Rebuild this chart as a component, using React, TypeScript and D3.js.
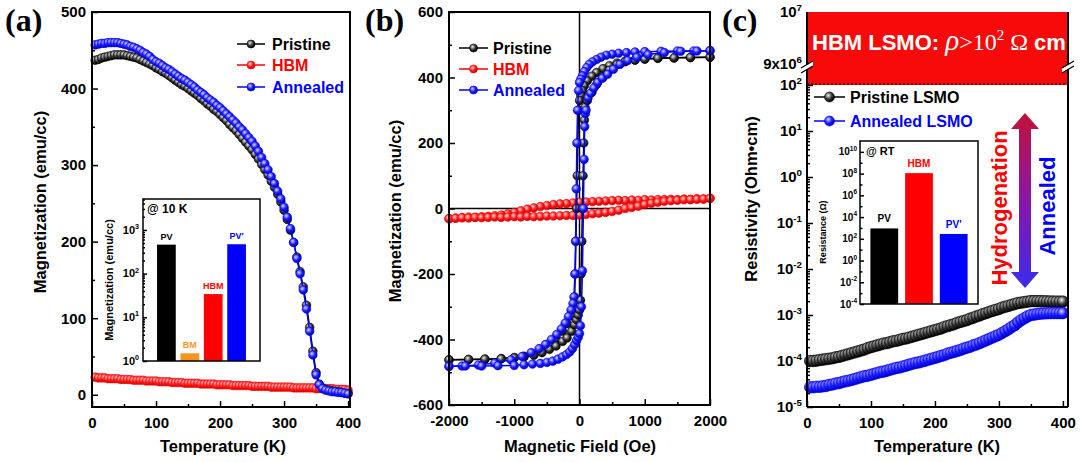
import React, { useEffect, useRef } from 'react';
import * as d3 from 'd3';

const FONT = 'Arial, "Liberation Sans", Helvetica, sans-serif';
const SERIF = '"Times New Roman", "Liberation Serif", serif';

// ---------- (a) magnetization vs temperature ----------
const tempK = [
  5, 10, 15, 20, 25, 30, 35, 40, 45, 50,
  55, 60, 65, 70, 75, 80, 85, 90, 95, 100,
  105, 110, 115, 120, 125, 130, 135, 140, 145, 150,
  155, 160, 165, 170, 175, 180, 185, 190, 195, 200,
  205, 210, 215, 220, 225, 230, 235, 240, 245, 250,
  255, 260, 265, 270, 275, 280, 285, 290, 295, 300,
  305, 310, 315, 320, 325, 330, 335, 340, 345, 350,
  355, 360, 365, 370, 375, 380, 385, 390, 395, 400,
];
const magPristine = [
  437, 438, 440, 441, 442, 443, 444, 444, 444, 444,
  443, 442, 441, 440, 438, 436, 434, 432, 430, 427,
  425, 422, 420, 417, 414, 411, 408, 405, 403, 400,
  397, 394, 391, 387, 384, 380, 377, 373, 370, 366,
  362, 358, 353, 349, 345, 340, 335, 330, 325, 320,
  314, 308, 301, 294, 287, 279, 271, 262, 252, 241,
  229, 215, 199, 180, 161, 141, 117, 88, 57, 29,
  14, 9, 7, 6, 5, 4, 4, 3, 2, 2,
];
const magHBM = [
  23, 22, 22, 22, 21, 21, 21, 21, 20, 20,
  20, 20, 19, 19, 19, 19, 18, 18, 18, 18,
  17, 17, 17, 17, 16, 16, 16, 16, 15, 15,
  15, 15, 15, 14, 14, 14, 14, 14, 13, 13,
  13, 13, 13, 12, 12, 12, 12, 12, 12, 11,
  11, 11, 11, 11, 11, 10, 10, 10, 10, 10,
  10, 10, 9, 9, 9, 9, 9, 9, 9, 8,
  8, 8, 8, 8, 8, 7, 7, 7, 7, 6,
];
const magAnnealed = [
  457, 458, 459, 459, 460, 460, 460, 460, 459, 458,
  457, 455, 454, 452, 450, 447, 445, 442, 438, 435,
  433, 430, 427, 425, 422, 419, 416, 413, 411, 408,
  405, 402, 398, 395, 392, 388, 385, 382, 378, 375,
  371, 367, 363, 359, 355, 350, 346, 341, 336, 331,
  325, 318, 310, 302, 294, 285, 276, 266, 256, 245,
  232, 217, 199, 178, 158, 137, 112, 83, 52, 26,
  13, 8, 6, 5, 4, 4, 3, 3, 2, 1,
];
const insetALabels = ['PV', 'BM', 'HBM', "PV'"];
const insetAValues = [460, 1.5, 34, 470];
const insetAColors = ['#000000', '#f7931e', '#ff0000', '#0000ff'];

// ---------- (b) hysteresis loops ----------
const hPristineDown = [2000, 1700, 1450, 1200, 1000, 850, 700, 575, 460, 360, 260, 190, 120, 75, 45, 20, 0, -15, -25, -35, -45, -55, -65, -75, -85, -120, -190, -260, -360, -460, -575, -700, -850, -1000, -1200, -1450, -1700, -2000];
const mPristineDown = [462, 461, 460, 459, 457, 454, 450, 444, 436, 427, 415, 404, 390, 375, 360, 345, 330, 300, 200, 100, 0, -100, -200, -270, -305, -328, -352, -375, -398, -420, -437, -446, -451, -455, -458, -460, -461, -462];
const hPristineUp = [-2000, -1700, -1450, -1200, -1000, -850, -700, -575, -460, -360, -260, -190, -120, -75, -45, -20, 0, 15, 25, 35, 45, 55, 65, 75, 85, 120, 190, 260, 360, 460, 575, 700, 850, 1000, 1200, 1450, 1700, 2000];
const mPristineUp = [-462, -461, -460, -459, -456, -453, -448, -440, -430, -420, -406, -395, -375, -355, -340, -325, -310, -280, -200, -100, 0, 100, 200, 270, 309, 330, 355, 378, 400, 422, 440, 448, 453, 456, 459, 460, 461, 462];

const hHBMDown = [2000, 1900, 1800, 1700, 1600, 1500, 1400, 1300, 1200, 1100, 1000, 900, 800, 700, 600, 500, 400, 300, 200, 100, 0, -100, -200, -300, -400, -500, -600, -700, -800, -900, -1000, -1100, -1200, -1300, -1400, -1500, -1600, -1700, -1800, -1900, -2000];
const mHBMDown = [31, 29, 30, 28, 29, 27, 28, 27, 27, 26, 27, 25, 26, 24, 25, 24, 23, 22, 21, 20, 19, 17, 15, 14, 12, 9, 6, 2, -2, -7, -12, -16, -20, -22, -24, -25, -27, -26, -28, -29, -31];
const hHBMUp = [-2000, -1900, -1800, -1700, -1600, -1500, -1400, -1300, -1200, -1100, -1000, -900, -800, -700, -600, -500, -400, -300, -200, -100, 0, 100, 200, 300, 400, 500, 600, 700, 800, 900, 1000, 1100, 1200, 1300, 1400, 1500, 1600, 1700, 1800, 1900, 2000];
const mHBMUp = [-31, -30, -28, -29, -27, -28, -27, -26, -27, -26, -25, -26, -24, -25, -24, -23, -23, -22, -21, -21, -20, -18, -16, -14, -12, -9, -5, 0, 3, 7, 12, 16, 19, 22, 24, 25, 27, 27, 28, 29, 31];

const hAnnealedDown = [2000, 1750, 1500, 1250, 1000, 850, 720, 600, 500, 410, 330, 260, 200, 150, 110, 75, 45, 20, 0, -15, -30, -40, -50, -60, -70, -85, -100, -130, -170, -220, -280, -350, -430, -520, -620, -740, -880, -1050, -1300, -1550, -1800, -2000];
const mAnnealedDown = [482, 481, 481, 480, 479, 478, 476, 474, 471, 468, 462, 455, 448, 440, 430, 418, 405, 395, 385, 360, 300, 200, 60, -100, -200, -270, -290, -310, -330, -350, -368, -385, -400, -415, -428, -440, -452, -462, -472, -478, -481, -482];
const hAnnealedUp = [-2000, -1750, -1500, -1250, -1000, -850, -720, -600, -500, -410, -330, -260, -200, -150, -110, -75, -45, -20, 0, 15, 30, 45, 60, 70, 80, 90, 100, 130, 170, 220, 280, 350, 430, 520, 620, 740, 880, 1050, 1300, 1550, 1800, 2000];
const mAnnealedUp = [-482, -481, -481, -480, -479, -477, -475, -473, -470, -466, -460, -453, -446, -438, -428, -416, -403, -393, -382, -358, -300, -190, 0, 150, 250, 290, 300, 338, 352, 368, 385, 398, 410, 425, 440, 452, 462, 470, 476, 480, 481, 482];

// ---------- (c) resistivity vs temperature ----------
const rhoPristine = [
  1.00e-4, 1.00e-4, 1.02e-4, 1.05e-4, 1.07e-4, 1.10e-4, 1.12e-4, 1.15e-4, 1.20e-4, 1.23e-4,
  1.29e-4, 1.35e-4, 1.41e-4, 1.48e-4, 1.55e-4, 1.62e-4, 1.70e-4, 1.78e-4, 1.91e-4, 2.00e-4,
  2.09e-4, 2.19e-4, 2.29e-4, 2.40e-4, 2.45e-4, 2.57e-4, 2.69e-4, 2.75e-4, 2.88e-4, 3.02e-4,
  3.09e-4, 3.24e-4, 3.39e-4, 3.55e-4, 3.72e-4, 3.89e-4, 4.07e-4, 4.27e-4, 4.47e-4, 4.68e-4,
  4.90e-4, 5.13e-4, 5.50e-4, 5.75e-4, 6.03e-4, 6.31e-4, 6.76e-4, 7.08e-4, 7.41e-4, 7.76e-4,
  8.32e-4, 8.71e-4, 9.33e-4, 9.77e-4, 1.05e-3, 1.10e-3, 1.17e-3, 1.23e-3, 1.29e-3, 1.35e-3,
  1.45e-3, 1.51e-3, 1.58e-3, 1.66e-3, 1.74e-3, 1.82e-3, 1.86e-3, 1.91e-3, 1.95e-3, 2.00e-3,
  2.00e-3, 2.00e-3, 2.00e-3, 1.99e-3, 1.98e-3, 1.97e-3, 1.96e-3, 1.95e-3, 1.95e-3, 1.95e-3,
];
const rhoAnnealed = [
  2.69e-5, 2.69e-5, 2.75e-5, 2.75e-5, 2.82e-5, 2.88e-5, 3.02e-5, 3.09e-5, 3.24e-5, 3.31e-5,
  3.47e-5, 3.63e-5, 3.72e-5, 3.89e-5, 4.07e-5, 4.27e-5, 4.47e-5, 4.68e-5, 4.79e-5, 5.01e-5,
  5.25e-5, 5.50e-5, 5.75e-5, 5.89e-5, 6.17e-5, 6.46e-5, 6.76e-5, 7.08e-5, 7.24e-5, 7.59e-5,
  7.94e-5, 8.32e-5, 8.71e-5, 9.12e-5, 9.33e-5, 9.77e-5, 1.02e-4, 1.07e-4, 1.12e-4, 1.17e-4,
  1.23e-4, 1.29e-4, 1.35e-4, 1.45e-4, 1.51e-4, 1.58e-4, 1.66e-4, 1.74e-4, 1.86e-4, 1.95e-4,
  2.04e-4, 2.19e-4, 2.29e-4, 2.45e-4, 2.63e-4, 2.82e-4, 3.02e-4, 3.24e-4, 3.47e-4, 3.72e-4,
  4.07e-4, 4.47e-4, 4.90e-4, 5.50e-4, 6.03e-4, 6.92e-4, 7.76e-4, 8.51e-4, 9.33e-4, 1.00e-3,
  1.02e-3, 1.05e-3, 1.07e-3, 1.08e-3, 1.09e-3, 1.10e-3, 1.10e-3, 1.10e-3, 1.10e-3, 1.10e-3,
];
const insetCLabels = ['PV', 'HBM', "PV'"];
const insetCValues = [9e2, 1.1e8, 2.8e2];
const insetCColors = ['#000000', '#ff0000', '#0000ff'];

const BLACK = '#000000';
const RED = '#ff0000';
const BLUE = '#0000ff';

export default function App() {
  const svgRef = useRef<SVGSVGElement>(null);

  useEffect(() => {
    if (!svgRef.current) return;
    const svg = d3.select(svgRef.current);
    svg.selectAll('*').remove();

    // shiny sphere markers
    const defs = svg.append('defs');
    const sphere = (id: string, light: string, base: string, dark: string) => {
      const g = defs.append('radialGradient').attr('id', id)
        .attr('cx', '38%').attr('cy', '35%').attr('r', '65%');
      g.append('stop').attr('offset', '0%').attr('stop-color', light);
      g.append('stop').attr('offset', '55%').attr('stop-color', base);
      g.append('stop').attr('offset', '100%').attr('stop-color', dark);
    };
    sphere('sp-k', '#eeeeee', '#3a3a3a', '#000000');
    sphere('sp-r', '#ffd6d6', '#ff2020', '#c80000');
    sphere('sp-b', '#d6d6ff', '#2020ff', '#0000b8');

    const arrowGrad = defs.append('linearGradient').attr('id', 'arrow-grad')
      .attr('x1', 0).attr('y1', 0).attr('x2', 0).attr('y2', 1);
    arrowGrad.append('stop').attr('offset', '0%').attr('stop-color', '#c0123a');
    arrowGrad.append('stop').attr('offset', '50%').attr('stop-color', '#8a16a8');
    arrowGrad.append('stop').attr('offset', '100%').attr('stop-color', '#3a2cec');

    const styleAxis = (sel: any, size = 15) => {
      sel.select('.domain').remove();
      sel.selectAll('line').attr('stroke', '#000').attr('stroke-width', 1.5);
      sel.selectAll('text')
        .attr('font-family', FONT).attr('font-weight', 'bold')
        .attr('font-size', size).attr('fill', '#000');
    };

    const linearAxes = (g: any, x: any, y: any, x0: number, y1: number,
      xMaj: number[], xMin: number[], yMaj: number[], yMin: number[]) => {
      g.append('g').attr('transform', `translate(0,${y1})`)
        .call(d3.axisBottom(x).tickValues(xMin).tickSize(-3).tickFormat(() => ''))
        .call(styleAxis);
      g.append('g').attr('transform', `translate(0,${y1})`)
        .call(d3.axisBottom(x).tickValues(xMaj).tickSize(-6).tickPadding(10).tickFormat((d: any) => String(d)))
        .call(styleAxis);
      g.append('g').attr('transform', `translate(${x0},0)`)
        .call(d3.axisLeft(y).tickValues(yMin).tickSize(-3).tickFormat(() => ''))
        .call(styleAxis);
      g.append('g').attr('transform', `translate(${x0},0)`)
        .call(d3.axisLeft(y).tickValues(yMaj).tickSize(-6).tickPadding(6).tickFormat((d: any) => String(d)))
        .call(styleAxis);
    };

    const frame = (g: any, x0: number, y0: number, x1: number, y1: number, w = 2) => {
      g.append('rect').attr('x', x0).attr('y', y0).attr('width', x1 - x0).attr('height', y1 - y0)
        .attr('fill', 'none').attr('stroke', '#000').attr('stroke-width', w);
    };

    const series = (g: any, xs: number[], ys: number[], x: any, y: any,
      color: string, grad: string, r: number) => {
      const pts: [number, number][] = xs.map((v, i) => [x(v), y(ys[i])]);
      g.append('path').attr('d', d3.line()(pts))
        .attr('fill', 'none').attr('stroke', color).attr('stroke-width', 1.5);
      g.append('g').selectAll('circle').data(pts).join('circle')
        .attr('cx', (d: any) => d[0]).attr('cy', (d: any) => d[1]).attr('r', r)
        .attr('fill', `url(#${grad})`).attr('stroke', color).attr('stroke-width', 0.6);
    };

    const text = (g: any, x: number, y: number, s: string, size: number,
      opts: { fill?: string; anchor?: string; rotate?: boolean; weight?: string; family?: string } = {}) => {
      const t = g.append('text')
        .attr('font-family', opts.family || FONT).attr('font-weight', opts.weight || 'bold')
        .attr('font-size', size).attr('fill', opts.fill || '#000')
        .attr('text-anchor', opts.anchor || 'start').text(s);
      if (opts.rotate) t.attr('transform', `translate(${x},${y}) rotate(-90)`);
      else t.attr('x', x).attr('y', y);
      return t;
    };

    const powLabel = (g: any, x: number, y: number, base: string, exp: string, size: number, anchor = 'end') => {
      const t = g.append('text').attr('x', x).attr('y', y + size * 0.35)
        .attr('text-anchor', anchor).attr('font-family', FONT).attr('font-weight', 'bold')
        .attr('font-size', size).attr('fill', '#000');
      t.append('tspan').text(base);
      t.append('tspan').attr('dy', -size * 0.45).attr('font-size', size * 0.65).text(exp);
    };

    const legend = (g: any, x0: number, x1: number, tx: number, rows: [number, string, string, string][], size: number, r: number) => {
      rows.forEach(([y, label, color, grad]) => {
        g.append('line').attr('x1', x0).attr('x2', x1).attr('y1', y).attr('y2', y)
          .attr('stroke', color).attr('stroke-width', 1.5);
        g.append('circle').attr('cx', (x0 + x1) / 2).attr('cy', y).attr('r', r)
          .attr('fill', `url(#${grad})`).attr('stroke', color).attr('stroke-width', 0.6);
        text(g, tx, y + size * 0.36, label, size, { fill: color });
      });
    };

    // ================= panel (a) =================
    const gA = svg.append('g');
    const xA = d3.scaleLinear().domain([0, 403]).range([92, 350]);
    const yA = d3.scaleLinear().domain([-16, 500]).range([407, 12]);
    linearAxes(gA, xA, yA, 92, 407, [0, 100, 200, 300, 400], [50, 150, 250, 350],
      [0, 100, 200, 300, 400, 500], [50, 150, 250, 350, 450]);
    series(gA, tempK, magHBM, xA, yA, RED, 'sp-r', 4.3);
    series(gA, tempK, magPristine, xA, yA, BLACK, 'sp-k', 4.3);
    series(gA, tempK, magAnnealed, xA, yA, BLUE, 'sp-b', 4.3);
    frame(gA, 92, 12, 350, 407);
    legend(gA, 237, 265, 272, [[44, 'Pristine', BLACK, 'sp-k'], [65, 'HBM', RED, 'sp-r'], [87, 'Annealed', BLUE, 'sp-b']], 16, 4);
    text(gA, 223, 452, 'Temperature (K)', 16.5, { anchor: 'middle' });
    text(gA, 46, 202, 'Magnetization (emu/cc)', 16.5, { anchor: 'middle', rotate: true });
    text(gA, 5, 31, '(a)', 32, { family: SERIF });

    // inset (a)
    const iA = svg.append('g');
    iA.append('rect').attr('x', 143).attr('y', 199).attr('width', 117).attr('height', 162).attr('fill', '#fff');
    const bxA = d3.scaleBand().domain(insetALabels).range([143, 260]).paddingInner(0.2).paddingOuter(0.6);
    const byA = d3.scaleLog().domain([1, 5100]).range([361, 199]);
    iA.selectAll('rect.bar').data(insetALabels).join('rect').attr('class', 'bar')
      .attr('x', (d: string) => bxA(d) as number).attr('width', bxA.bandwidth())
      .attr('y', (d: string, i: number) => byA(insetAValues[i])).attr('height', (d: string, i: number) => 361 - byA(insetAValues[i]))
      .attr('fill', (d: string, i: number) => insetAColors[i]);
    insetALabels.forEach((d, i) => {
      text(iA, (bxA(d) as number) + bxA.bandwidth() / 2, byA(insetAValues[i]) - 5, d, 9, { fill: insetAColors[i], anchor: 'middle' });
    });
    const minorA: number[] = [];
    [1, 10, 100, 1000].forEach(b => [2, 3, 4, 5, 6, 7, 8, 9].forEach(m => { if (b * m < 5100) minorA.push(b * m); }));
    iA.append('g').attr('transform', 'translate(143,0)')
      .call(d3.axisLeft(byA).tickValues(minorA).tickSize(-2).tickFormat(() => '')).call(styleAxis);
    iA.append('g').attr('transform', 'translate(143,0)')
      .call(d3.axisLeft(byA).tickValues([1, 10, 100, 1000]).tickSize(-4).tickFormat(() => '')).call(styleAxis);
    [0, 1, 2, 3].forEach(e => powLabel(iA, 139, byA(Math.pow(10, e)), '10', String(e), 11));
    frame(iA, 143, 199, 260, 361, 1.5);
    text(iA, 147, 213, '@ 10 K', 12, {});
    text(iA, 113, 280, 'Magnetization (emu/cc)', 11, { anchor: 'middle', rotate: true });

    // ================= panel (b) =================
    const gB = svg.append('g');
    const xB = d3.scaleLinear().domain([-2000, 2000]).range([449, 710]);
    const yB = d3.scaleLinear().domain([-600, 600]).range([405, 12]);
    linearAxes(gB, xB, yB, 449, 405, [-2000, -1000, 0, 1000, 2000], [-1500, -500, 500, 1500],
      [-600, -400, -200, 0, 200, 400, 600], [-500, -300, -100, 100, 300, 500]);
    gB.append('line').attr('x1', xB(0)).attr('x2', xB(0)).attr('y1', 12).attr('y2', 405)
      .attr('stroke', '#000').attr('stroke-width', 1.5);
    gB.append('line').attr('x1', 449).attr('x2', 710).attr('y1', yB(0)).attr('y2', yB(0))
      .attr('stroke', '#000').attr('stroke-width', 1.5);
    series(gB, hHBMDown, mHBMDown, xB, yB, RED, 'sp-r', 4.3);
    series(gB, hHBMUp, mHBMUp, xB, yB, RED, 'sp-r', 4.3);
    series(gB, hPristineDown, mPristineDown, xB, yB, BLACK, 'sp-k', 4.3);
    series(gB, hPristineUp, mPristineUp, xB, yB, BLACK, 'sp-k', 4.3);
    series(gB, hAnnealedDown, mAnnealedDown, xB, yB, BLUE, 'sp-b', 4.3);
    series(gB, hAnnealedUp, mAnnealedUp, xB, yB, BLUE, 'sp-b', 4.3);
    frame(gB, 449, 12, 710, 405);
    legend(gB, 459, 488, 493, [[48, 'Pristine', BLACK, 'sp-k'], [69, 'HBM', RED, 'sp-r'], [90, 'Annealed', BLUE, 'sp-b']], 16, 4);
    text(gB, 580, 452, 'Magnetic Field (Oe)', 16.5, { anchor: 'middle' });
    text(gB, 401, 211, 'Magnetization (emu/cc)', 16.5, { anchor: 'middle', rotate: true });
    text(gB, 365, 31, '(b)', 32, { family: SERIF });

    // ================= panel (c) =================
    const gC = svg.append('g');
    const xC = d3.scaleLinear().domain([0, 408]).range([807, 1068]);
    const yC = d3.scaleLog().domain([1e-5, 1e2]).range([407, 85]);
    const yUp = d3.scaleLinear().domain([9e6, 1e7]).range([64, 12]);

    gC.append('rect').attr('x', 807).attr('y', yUp(1e7)).attr('width', 1068 - 807)
      .attr('height', yC(1e2) - yUp(1e7)).attr('fill', '#f80a0a');
    gC.append('line').attr('x1', 807).attr('x2', 1068).attr('y1', yC(1e2) - 1).attr('y2', yC(1e2) - 1)
      .attr('stroke', '#000').attr('stroke-width', 1).attr('stroke-dasharray', '2,2');

    const minorC: number[] = [];
    [1e-5, 1e-4, 1e-3, 1e-2, 1e-1, 1, 10].forEach(b => [2, 3, 4, 5, 6, 7, 8, 9].forEach(m => minorC.push(b * m)));
    gC.append('g').attr('transform', 'translate(807,0)')
      .call(d3.axisLeft(yC).tickValues(minorC).tickSize(-3).tickFormat(() => '')).call(styleAxis);
    gC.append('g').attr('transform', 'translate(807,0)')
      .call(d3.axisLeft(yC).tickValues([1e-5, 1e-4, 1e-3, 1e-2, 1e-1, 1, 10, 100]).tickSize(-6).tickFormat(() => '')).call(styleAxis);
    gC.append('g').attr('transform', 'translate(0,407)')
      .call(d3.axisBottom(xC).tickValues([50, 150, 250, 350]).tickSize(-3).tickFormat(() => '')).call(styleAxis);
    gC.append('g').attr('transform', 'translate(0,407)')
      .call(d3.axisBottom(xC).tickValues([0, 100, 200, 300, 400]).tickSize(-6).tickPadding(10).tickFormat((d: any) => String(d)))
      .call(styleAxis);
    [-5, -4, -3, -2, -1, 0, 1, 2].forEach(e => powLabel(gC, 802, yC(Math.pow(10, e)), '10', String(e), 15));
    powLabel(gC, 802, yUp(1e7), '10', '7', 15);
    powLabel(gC, 802, yUp(9e6), '9x10', '6', 15);

    series(gC, tempK, rhoPristine, xC, yC, BLACK, 'sp-k', 5.8);
    series(gC, tempK, rhoAnnealed, xC, yC, BLUE, 'sp-b', 5.8);

    gC.append('line').attr('x1', 807).attr('x2', 1068).attr('y1', 407).attr('y2', 407)
      .attr('stroke', '#000').attr('stroke-width', 2);
    [807, 1068].forEach(ax => {
      gC.append('line').attr('x1', ax).attr('x2', ax).attr('y1', 12).attr('y2', 407)
        .attr('stroke', '#000').attr('stroke-width', 2);
      // axis break marks
      gC.append('path').attr('d', `M${ax - 6},68 L${ax + 6},61 L${ax + 6},66 L${ax - 6},73 Z`)
        .attr('fill', '#fff');
      gC.append('path').attr('d', `M${ax - 6},68 L${ax + 6},61 M${ax - 6},73 L${ax + 6},66`)
        .attr('stroke', '#000').attr('stroke-width', 1.3);
    });

    // banner text
    const bt = gC.append('text').attr('x', 812).attr('y', 50).attr('fill', '#fff');
    bt.append('tspan').attr('font-family', FONT).attr('font-weight', 'bold').attr('font-size', 22).text('HBM LSMO: ');
    bt.append('tspan').attr('font-family', SERIF).attr('font-style', 'italic').attr('font-size', 29).text('ρ');
    bt.append('tspan').attr('font-family', SERIF).attr('font-size', 24).text('>10');
    bt.append('tspan').attr('font-family', SERIF).attr('font-size', 15).attr('dy', -10).text('2');
    bt.append('tspan').attr('font-family', SERIF).attr('font-size', 24).attr('dy', 10).text(' Ω ');
    bt.append('tspan').attr('font-family', FONT).attr('font-weight', 'bold').attr('font-size', 22).text('cm');

    legend(gC, 814, 845, 850, [[97, 'Pristine LSMO', BLACK, 'sp-k'], [121, 'Annealed LSMO', BLUE, 'sp-b']], 16, 5);

    // arrow
    const ac = 1025;
    gC.append('path')
      .attr('d', `M${ac},113 L${ac + 14},129 L${ac + 6},129 L${ac + 6},272 L${ac + 14},272 L${ac},288 L${ac - 14},272 L${ac - 6},272 L${ac - 6},129 L${ac - 14},129 Z`)
      .attr('fill', 'url(#arrow-grad)');
    text(gC, 1007, 208, 'Hydrogenation', 22, { anchor: 'middle', rotate: true, fill: RED });
    text(gC, 1055, 206, 'Annealed', 22, { anchor: 'middle', rotate: true, fill: BLUE });

    text(gC, 937, 452, 'Temperature (K)', 16.5, { anchor: 'middle' });
    text(gC, 757, 199, 'Resistivity (Ohm\u2022cm)', 16.5, { anchor: 'middle', rotate: true });
    text(gC, 722, 31, '(c)', 32, { family: SERIF });

    // inset (c)
    const iC = svg.append('g');
    iC.append('rect').attr('x', 860).attr('y', 141).attr('width', 118).attr('height', 163).attr('fill', '#fff');
    const bxC = d3.scaleBand().domain(insetCLabels).range([860, 978]).paddingInner(0.2).paddingOuter(0.3);
    const byC = d3.scaleLog().domain([1e-4, 1e11]).range([304, 141]);
    iC.selectAll('rect.bar').data(insetCLabels).join('rect').attr('class', 'bar')
      .attr('x', (d: string) => bxC(d) as number).attr('width', bxC.bandwidth())
      .attr('y', (d: string, i: number) => byC(insetCValues[i])).attr('height', (d: string, i: number) => 304 - byC(insetCValues[i]))
      .attr('fill', (d: string, i: number) => insetCColors[i]);
    insetCLabels.forEach((d, i) => {
      text(iC, (bxC(d) as number) + bxC.bandwidth() / 2, byC(insetCValues[i]) - 6, d, 10, { fill: insetCColors[i], anchor: 'middle' });
    });
    const decC = [-4, -3, -2, -1, 0, 1, 2, 3, 4, 5, 6, 7, 8, 9, 10];
    iC.append('g').attr('transform', 'translate(860,0)')
      .call(d3.axisLeft(byC).tickValues(decC.filter(e => e % 2 !== 0).map(e => Math.pow(10, e))).tickSize(-2.5).tickFormat(() => ''))
      .call(styleAxis);
    iC.append('g').attr('transform', 'translate(860,0)')
      .call(d3.axisLeft(byC).tickValues(decC.filter(e => e % 2 === 0).map(e => Math.pow(10, e))).tickSize(-4).tickFormat(() => ''))
      .call(styleAxis);
    decC.filter(e => e % 2 === 0).forEach(e => powLabel(iC, 857, byC(Math.pow(10, e)), '10', String(e), 10));
    frame(iC, 860, 141, 978, 304, 1.5);
    text(iC, 866, 155, '@ RT', 11, {});
    text(iC, 826, 232, 'Resistance (\u03a9)', 9, { anchor: 'middle', rotate: true });
  }, []);

  return (
    <svg
      ref={svgRef}
      width={1080}
      height={462}
      style={{ position: 'absolute', left: 0, top: 0, background: '#fff', display: 'block' }}
    />
  );
}
